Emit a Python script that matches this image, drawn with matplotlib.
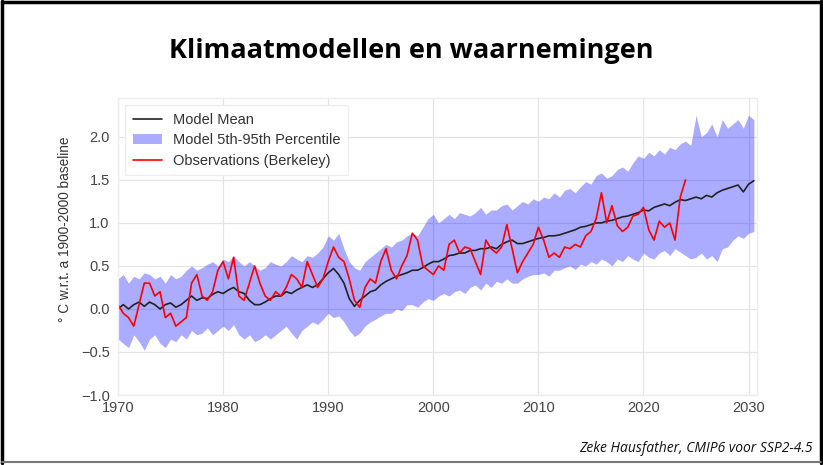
import numpy as np
import matplotlib
matplotlib.use("Agg")
import matplotlib.pyplot as plt
from matplotlib.lines import Line2D

# tijdas: halfjaarlijkse waarden
model_years = np.arange(1970, 2031, 0.5)
obs_years = np.arange(1970, 2024.01, 0.5)

# Model gemiddelde (1970.0, 1970.5, ... 2030.5)
model_mean = [
    0.00, 0.05, 0.00, 0.05, 0.08, 0.03, 0.08, 0.05, 0.00, 0.05,
    0.07, 0.02, 0.05, 0.10, 0.15, 0.10, 0.13, 0.12, 0.17, 0.20,  # 1970-1979
    0.18, 0.22, 0.25, 0.20, 0.18, 0.10, 0.05, 0.05, 0.08, 0.12,
    0.15, 0.15, 0.20, 0.18, 0.22, 0.25, 0.28, 0.25, 0.28, 0.35,  # 1980-1989
    0.42, 0.47, 0.40, 0.30, 0.12, 0.03, 0.10, 0.15, 0.20, 0.22,
    0.28, 0.32, 0.35, 0.38, 0.40, 0.42, 0.45, 0.45, 0.48, 0.52,  # 1990-1999
    0.55, 0.55, 0.58, 0.62, 0.63, 0.65, 0.65, 0.68, 0.68, 0.70,
    0.70, 0.72, 0.70, 0.75, 0.78, 0.80, 0.76, 0.76, 0.78, 0.80,  # 2000-2009
    0.82, 0.83, 0.85, 0.85, 0.86, 0.88, 0.90, 0.92, 0.95, 0.96,
    0.98, 1.00, 1.00, 1.02, 1.03, 1.05, 1.07, 1.08, 1.10, 1.12,  # 2010-2019
    1.15, 1.14, 1.18, 1.20, 1.22, 1.20, 1.24, 1.27, 1.26, 1.28,
    1.30, 1.28, 1.32, 1.30, 1.35, 1.38, 1.40, 1.42, 1.44, 1.36,  # 2020-2029
    1.45, 1.49,
]

# 95e percentiel
model_p95 = [
    0.35, 0.40, 0.30, 0.38, 0.35, 0.42, 0.40, 0.35, 0.38, 0.30,
    0.40, 0.35, 0.38, 0.45, 0.50, 0.45, 0.48, 0.52, 0.55, 0.50,
    0.58, 0.55, 0.62, 0.55, 0.50, 0.55, 0.50, 0.45, 0.48, 0.55,
    0.52, 0.50, 0.55, 0.62, 0.58, 0.55, 0.62, 0.60, 0.65, 0.72,
    0.85, 0.80, 0.88, 0.70, 0.55, 0.48, 0.45, 0.55, 0.60, 0.65,
    0.70, 0.75, 0.72, 0.78, 0.80, 0.85, 0.88, 0.85, 0.95, 1.05,
    1.10, 1.00, 1.05, 1.10, 1.05, 1.12, 1.10, 1.08, 1.12, 1.18,
    1.10, 1.15, 1.15, 1.20, 1.22, 1.15, 1.20, 1.25, 1.22, 1.28,
    1.25, 1.30, 1.28, 1.35, 1.30, 1.38, 1.40, 1.35, 1.42, 1.48,
    1.45, 1.55, 1.58, 1.52, 1.55, 1.62, 1.65, 1.60, 1.70, 1.78,
    1.75, 1.82, 1.78, 1.85, 1.80, 1.88, 1.85, 1.92, 1.95, 1.90,
    2.25, 2.00, 2.05, 2.15, 2.00, 2.20, 2.10, 2.15, 2.20, 2.10,
    2.25, 2.20,
]

# 5e percentiel
model_p5 = [
    -0.35, -0.40, -0.45, -0.30, -0.38, -0.48, -0.35, -0.30, -0.40, -0.45,
    -0.35, -0.38, -0.30, -0.35, -0.25, -0.30, -0.28, -0.22, -0.30, -0.25,
    -0.20, -0.25, -0.18, -0.30, -0.35, -0.30, -0.38, -0.35, -0.30, -0.35,
    -0.30, -0.25, -0.20, -0.28, -0.35, -0.25, -0.20, -0.15, -0.18, -0.12,
    -0.05, -0.10, -0.08, -0.15, -0.25, -0.32, -0.28, -0.20, -0.15, -0.12,
    -0.08, -0.05, -0.05, 0.00, -0.02, 0.05, 0.05, 0.02, 0.08, 0.12,
    0.10, 0.15, 0.18, 0.15, 0.20, 0.22, 0.18, 0.25, 0.28, 0.22,
    0.30, 0.25, 0.32, 0.30, 0.35, 0.30, 0.30, 0.35, 0.38, 0.40,
    0.40, 0.42, 0.38, 0.45, 0.45, 0.48, 0.50, 0.46, 0.52, 0.50,
    0.55, 0.52, 0.58, 0.55, 0.50, 0.58, 0.55, 0.62, 0.58, 0.55,
    0.65, 0.60, 0.58, 0.65, 0.68, 0.62, 0.70, 0.66, 0.62, 0.58,
    0.60, 0.65, 0.58, 0.62, 0.55, 0.70, 0.72, 0.80, 0.85, 0.82,
    0.88, 0.90,
]

# Waarnemingen (Berkeley Earth), 1970.0 - 2024.0
obs = [
    0.05, -0.05, -0.10, -0.20, 0.05, 0.30, 0.30, 0.15, 0.20, -0.10,
    -0.05, -0.20, -0.15, -0.10, 0.30, 0.40, 0.15, 0.10, 0.20, 0.45,
    0.55, 0.35, 0.60, 0.15, 0.10, 0.30, 0.50, 0.30, 0.15, 0.10,
    0.20, 0.15, 0.25, 0.40, 0.35, 0.25, 0.55, 0.40, 0.25, 0.35,
    0.55, 0.72, 0.60, 0.55, 0.35, 0.10, 0.02, 0.25, 0.35, 0.30,
    0.55, 0.70, 0.45, 0.35, 0.50, 0.62, 0.88, 0.80, 0.50, 0.45,
    0.40, 0.50, 0.45, 0.75, 0.80, 0.65, 0.72, 0.70, 0.55, 0.40,
    0.80, 0.70, 0.65, 0.72, 0.98, 0.70, 0.42, 0.55, 0.65, 0.75,
    0.95, 0.80, 0.60, 0.65, 0.60, 0.72, 0.70, 0.75, 0.72, 0.85,
    0.90, 1.05, 1.35, 1.00, 1.20, 0.97, 0.90, 0.95, 1.08, 1.10,
    1.18, 0.92, 0.80, 1.02, 0.95, 1.00, 0.80, 1.30, 1.50,
]

x_ticks = [1970, 1980, 1990, 2000, 2010, 2020, 2030]
y_ticks = [-1.0, -0.5, 0.0, 0.5, 1.0, 1.5, 2.0]

plt.style.use("seaborn-v0_8-whitegrid")
plt.rcParams["font.family"] = ["Liberation Sans", "DejaVu Sans"]

fig = plt.figure(figsize=(8.23, 4.65), dpi=100)
ax = fig.add_axes([0.1434, 0.1505, 0.7764, 0.6385])

ax.fill_between(model_years, model_p5, model_p95, color="blue", alpha=0.33,
                linewidth=0, label="Model 5th-95th Percentile")
ax.plot(model_years, model_mean, color="#222222", lw=1.2, label="Model Mean")
ax.plot(obs_years, obs, color="red", lw=1.2, label="Observations (Berkeley)")

ax.set_xlim(1970, 2030.8)
ax.set_ylim(-1.0, 2.45)
ax.set_xticks(x_ticks)
ax.set_yticks(y_ticks)
ax.tick_params(labelsize=10.5, colors="#444444")
ax.tick_params(axis="y", pad=6)
ax.tick_params(axis="x", pad=4)
ax.set_ylabel("° C w.r.t. a 1900-2000 baseline", fontsize=9.8, color="#333333")
ax.yaxis.set_label_coords(-0.072, 0.56)
ax.grid(color="#e4e4e4", lw=0.9)
for s in ax.spines.values():
    s.set_color("#eeeeee")

handles, labels = ax.get_legend_handles_labels()
order = [1, 0, 2]
leg = ax.legend([handles[i] for i in order], [labels[i] for i in order],
                loc="upper left", fontsize=10.5, frameon=True, fancybox=False,
                framealpha=1, edgecolor="#eeeeee", borderpad=0.5,
                labelspacing=0.45)
for t in leg.get_texts():
    t.set_color("#333333")

fig.text(0.5, 0.890, "Klimaatmodellen en waarnemingen", ha="center", va="center",
         fontsize=19.5, fontweight="bold", family="Open Sans", color="black")
fig.text(0.988, 0.035, "Zeke Hausfather, CMIP6 voor SSP2-4.5", ha="right", va="center",
         fontsize=10, style="italic", family="Open Sans", color="#111111")

# kader rond de slide
fig.add_artist(Line2D([0.003, 0.003], [0.005, 0.997], color="black", lw=2.5, transform=fig.transFigure))
fig.add_artist(Line2D([0.003, 0.997], [0.995, 0.995], color="black", lw=2.5, transform=fig.transFigure))
fig.add_artist(Line2D([0.997, 0.997], [0.005, 0.997], color="black", lw=2.5, transform=fig.transFigure))
fig.add_artist(Line2D([0.003, 0.997], [0.006, 0.006], color="#777777", lw=1.5, transform=fig.transFigure))

fig.savefig("out.png", dpi=100)
